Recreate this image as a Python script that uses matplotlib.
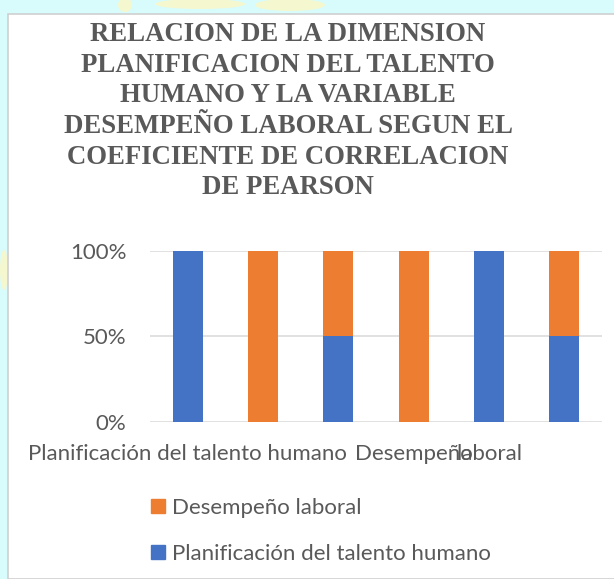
import matplotlib.pyplot as plt
from matplotlib.patches import Rectangle, Patch, Ellipse
import numpy as np

# datos (porcentajes de cada columna apilada al 100%)
planificacion = [1.0, 0.0, 0.5, 0.0, 1.0, 0.5]
desempeno = [0.0, 1.0, 0.5, 1.0, 0.0, 0.5]
etiquetas_x = ["Planificación del talento humano", "", "", "Desempeño", "laboral", ""]
ticks_y = [0, 0.5, 1.0]
etiquetas_y = ["0%", "50%", "100%"]
series = ["Desempeño laboral", "Planificación del talento humano"]

azul = "#4472c4"
naranja = "#ed7d31"
gris = "#595959"

W, H = 614, 579
fig = plt.figure(figsize=(W / 100, H / 100), dpi=100)
fig.patch.set_facecolor("#d8fbfb")

# manchas claras del fondo (marca de agua)
for cx, cy, w, h in [(125, 5, 14, 14), (200, 4, 90, 10), (290, 5, 70, 12), (4, 270, 8, 40)]:
    fig.patches.append(Ellipse((cx / W, 1 - cy / H), w / W, h / H, transform=fig.transFigure,
                               facecolor="#f5f8cf", edgecolor="none", zorder=-6))

# caja blanca del grafico
fig.patches.append(Rectangle((8 / W, 0), 1, 1 - 14 / H, transform=fig.transFigure,
                             facecolor="white", edgecolor="#d0d0d0", linewidth=1.2, zorder=-5))

ax = fig.add_axes([150 / W, (H - 421.5) / H, 452 / W, 170.5 / H])
ax.set_facecolor("white")
x = np.arange(len(planificacion))
ax.bar(x, planificacion, width=0.4, color=azul, zorder=3)
ax.bar(x, desempeno, width=0.4, bottom=planificacion, color=naranja, zorder=3)

ax.set_xlim(-0.5, len(x) - 0.5)
ax.set_ylim(0, 1)
ax.set_yticks(ticks_y)
ax.set_yticklabels(etiquetas_y)
ax.set_xticks(x)
ax.set_xticklabels(etiquetas_x)
ax.grid(axis="y", color="#d9d9d9", linewidth=1.1, zorder=0)
for s in ax.spines.values():
    s.set_visible(False)
ax.tick_params(length=0, labelcolor=gris, labelsize=16)
ax.tick_params(axis="y", pad=17)
ax.tick_params(axis="x", pad=16)
for t in ax.get_xticklabels() + ax.get_yticklabels():
    t.set_family("Lato")

fig.text(288 / W, 1 - 22 / H,
         "RELACION DE LA DIMENSION\nPLANIFICACION DEL TALENTO\nHUMANO Y LA VARIABLE\n"
         "DESEMPEÑO LABORAL SEGUN EL\nCOEFICIENTE DE CORRELACION\nDE PEARSON",
         ha="center", va="top", family="Liberation Serif", fontweight="bold",
         fontsize=19.3, color=gris, linespacing=1.3)

handles = [Patch(color=naranja), Patch(color=azul)]
leg = fig.legend(handles, series, loc="upper left", bbox_to_anchor=(131 / W, 1 - 478 / H),
                 frameon=False, handlelength=0.63, handleheight=0.63, handletextpad=0.3,
                 labelspacing=1.17, prop={"family": "Lato", "size": 16})
for t in leg.get_texts():
    t.set_color(gris)

fig.savefig("out.png", dpi=100)
